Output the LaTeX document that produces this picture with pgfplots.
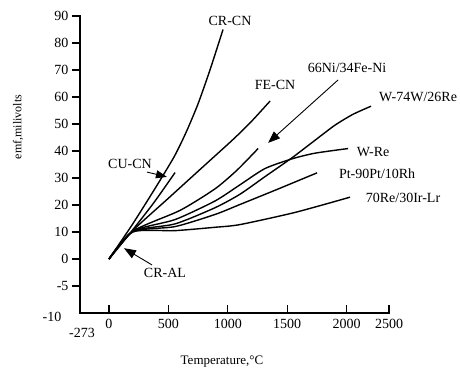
\documentclass[border=0pt]{standalone}
\usepackage{fontspec}
\setmainfont{Liberation Serif}
\usepackage{pgfplots}
\pgfplotsset{compat=1.18}
\usetikzlibrary{arrows.meta}
\begin{document}
\begin{tikzpicture}
\path[use as bounding box] (-80pt,-57pt) rectangle (380pt,313pt);
\begin{axis}[
  at={(0pt,0pt)}, anchor=south west,
  scale only axis, width=309pt, height=297pt,
  xmin=-244, xmax=2357, ymin=-20, ymax=90,
  axis lines=left,
  axis line style={-, draw=none},
  clip=false,
  xtick={0,500,1000,1500,2000,2357},
  xticklabels={0,500,1000,1500,2000,2500},
  ytick={-10,0,10,20,30,40,50,60,70,80,90},
  yticklabels={-5,0,10,20,30,40,50,60,70,80,90},
  tick align=outside, major tick length=8pt,
  x tick style={yshift=8pt, line width=1.3pt, black},
  y tick style={line width=1.3pt, black},
  xticklabel style={yshift=5pt},
  tick label style={font=\fontsize{14}{16}\selectfont},
  curve/.style={black, solid, line width=1.4pt, smooth, tension=0.4},
]
\draw[line width=1.5pt, line cap=rect] (rel axis cs:0,1) -- (rel axis cs:0,0) -- (rel axis cs:1,0);
% CR-CN
\addplot[curve] coordinates {(0,0) (200,13) (400,27) (550,38) (650,47) (750,57.5) (850,70) (960,85)};
% CU-CN
\addplot[curve] coordinates {(0,0) (200,10.8) (380,21) (556,32)};
% FE-CN
\addplot[curve] coordinates {(0,0) (200,10.5) (500,22.5) (800,34.5) (1050,44.5) (1200,51) (1356,58.5)};
% 66Ni/34Fe-Ni
\addplot[curve] coordinates {(0,0) (200,10.3) (598,18) (893,26) (1080,33) (1255,40.9)};
% W-Re
\addplot[curve] coordinates {(0,0) (200,10.3) (556,14.6) (893,21.5) (1103,27.5) (1313,33.5) (1541,37.1) (1735,39.2) (2012,40.9)};
% W-74W/26Re
\addplot[curve] coordinates {(0,0) (200,10.2) (556,13) (893,19) (1103,24) (1313,30.5) (1541,37.5) (1735,44) (1900,49.5) (2050,53.5) (2206,56.6)};
% Pt-90Pt/10Rh
\addplot[curve] coordinates {(0,0) (200,10.1) (556,12) (893,16.5) (1103,20.2) (1400,25.5) (1751,31.9)};
% 70Re/30Ir-Lr
\addplot[curve] coordinates {(0,0) (200,10) (556,10.5) (893,11.75) (1103,12.75) (1566,17.25) (2029,22.9)};

\begin{scope}[font=\fontsize{14}{16}\selectfont]
\node at (axis cs:1019,88) {CR-CN};
\node at (axis cs:1398,64.4) {FE-CN};
\node at (axis cs:2004,70.7) {66Ni/34Fe-Ni};
\node at (axis cs:2602,60) {W-74W/26Re};
\node at (axis cs:2223,39.6) {W-Re};
\node at (axis cs:2257,31.5) {Pt-90Pt/10Rh};
\node at (axis cs:2475,22.6) {70Re/30Ir-Lr};
\node at (axis cs:177,35.2) {CU-CN};
\node at (axis cs:471,-5.2) {CR-AL};
\end{scope}
\draw[line width=0.9pt, -{Triangle[length=12pt,width=9pt]}] (axis cs:1928,66.3) -- (axis cs:1339,43);
\draw[line width=0.9pt, -{Triangle[length=11pt,width=8pt]}] (axis cs:320,32.2) -- (axis cs:488,30.4);
\draw[line width=0.9pt, -{Triangle[length=12pt,width=9pt]}] (axis cs:362,-2.2) -- (axis cs:126,4);
\end{axis}
\node[font=\fontsize{14}{16}\selectfont] at (-28pt,-4pt) {-10};
\node[font=\fontsize{14}{16}\selectfont] at (2pt,-20pt) {-273};
\node[rotate=90, font=\fontsize{12}{14}\selectfont] at (-62pt,186pt) {emf,milivolts};
\node[font=\fontsize{13}{15}\selectfont] at (142pt,-49pt) {Temperature,°C};
\end{tikzpicture}
\end{document}
